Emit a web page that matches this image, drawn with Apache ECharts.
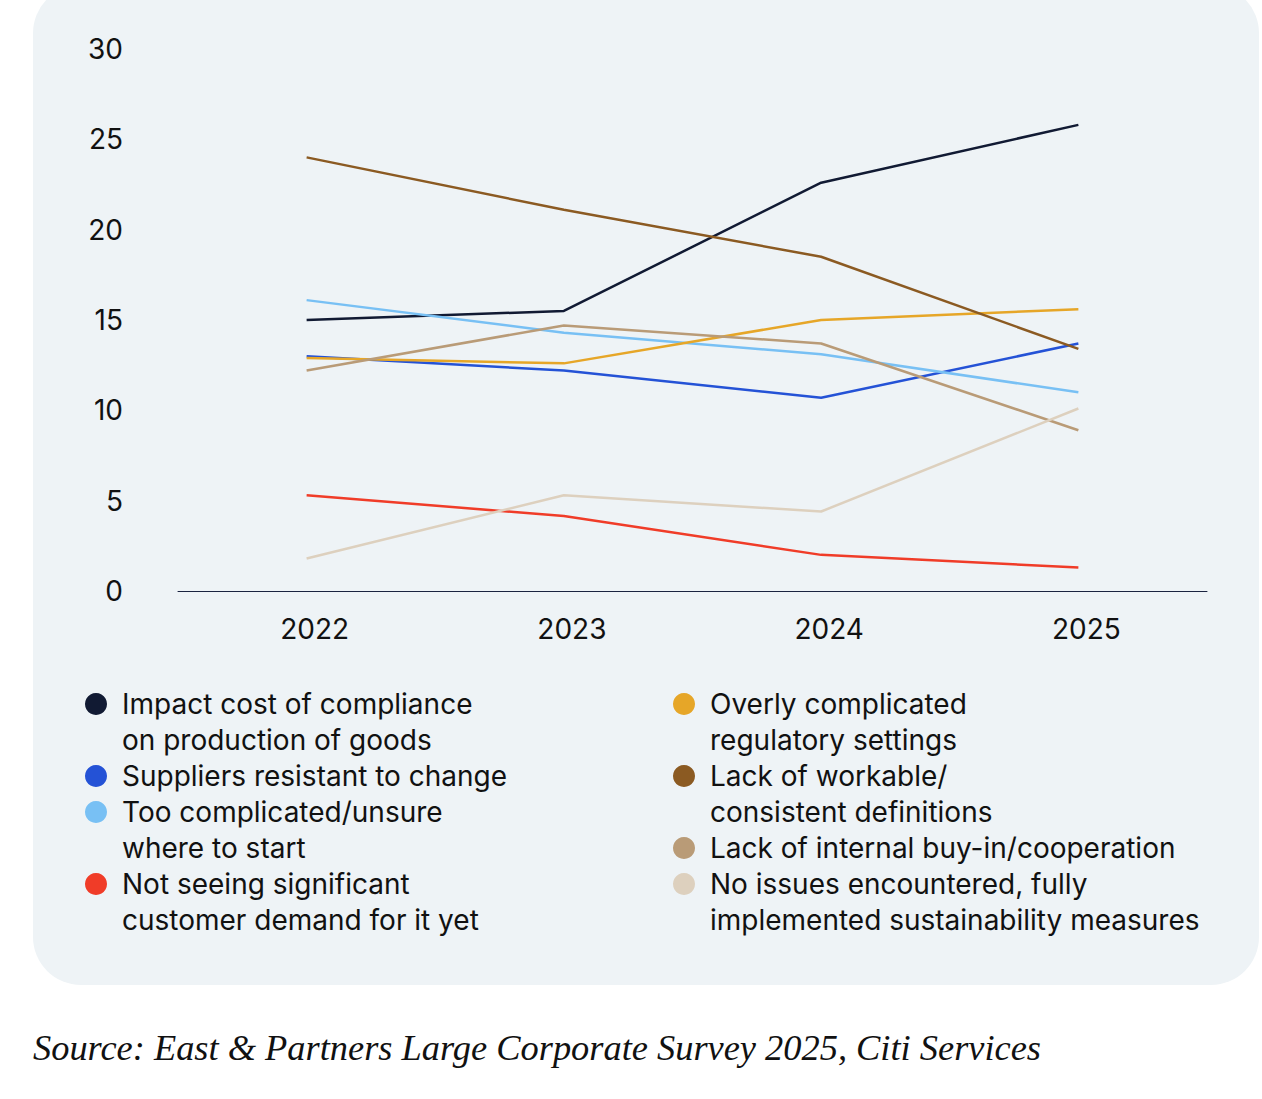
<!DOCTYPE html>
<html>
<head>
<meta charset="utf-8">
<script src="https://cdn.jsdelivr.net/npm/echarts@6/dist/echarts.min.js"></script>
<style>
  html, body { margin: 0; padding: 0; background: #ffffff; }
  #chart { width: 1262px; height: 1099px; }
</style>
</head>
<body>
<div id="chart"></div>
<script>
// data
var years = ["2022", "2023", "2024", "2025"];
var seriesNames = [
  "Impact cost of compliance\non production of goods",
  "Suppliers resistant to change",
  "Too complicated/unsure\nwhere to start",
  "Not seeing significant\ncustomer demand for it yet",
  "Overly complicated\nregulatory settings",
  "Lack of workable/\nconsistent definitions",
  "Lack of internal buy-in/cooperation",
  "No issues encountered, fully\nimplemented sustainability measures"
];
var impactCost = [15.0, 15.5, 22.6, 25.8];
var suppliers = [13.0, 12.2, 10.7, 13.7];
var tooComplicated = [16.1, 14.3, 13.1, 11.0];
var notSeeing = [5.3, 4.15, 2.0, 1.3];
var overlyComplicated = [12.9, 12.6, 15.0, 15.6];
var lackWorkable = [24.0, 21.1, 18.5, 13.4];
var lackInternal = [12.2, 14.7, 13.7, 8.9];
var noIssues = [1.8, 5.3, 4.4, 10.1];
var yTicks = [0, 5, 10, 15, 20, 25, 30];
var sourceText = "Source: East & Partners Large Corporate Survey 2025, Citi Services";

var allValues = [impactCost, suppliers, tooComplicated, notSeeing,
  overlyComplicated, lackWorkable, lackInternal, noIssues];
var colors = ["#111a33", "#2452d6", "#78c0f4", "#f03c28",
  "#e6a628", "#8b5a22", "#b99b77", "#ddd0be"];

var fontSans = "Inter, 'Noto Sans', sans-serif";

// legend slots: [left, icon centre y]
var legendPos = [
  [85, 704], [85, 776], [85, 812], [85, 884],
  [673, 704], [673, 776], [673, 848], [673, 884]
];

var chart = echarts.init(document.getElementById("chart"), null, { renderer: "svg" });

// two-line names get an empty first line so the marker sits on the first text line
var legends = seriesNames.map(function (name, i) {
  var twoLines = name.indexOf("\n") >= 0;
  return {
    data: [name],
    orient: "vertical",
    left: legendPos[i][0],
    top: legendPos[i][1] - (twoLines ? 54 : 18),
    padding: 0,
    icon: "circle",
    itemWidth: 42,
    itemHeight: 22,
    selectedMode: false,
    formatter: function (n) {
      return n.indexOf("\n") >= 0 ? "\n" + n : n;
    },
    textStyle: {
      color: "#111111",
      fontFamily: fontSans,
      fontSize: 28,
      lineHeight: 36
    }
  };
});

var option = {
  backgroundColor: "#ffffff",
  animation: false,
  color: colors,
  graphic: [
    {
      type: "rect",
      z: -10,
      shape: { x: 33, y: -15, width: 1226, height: 1000, r: 48 },
      style: { fill: "#eef3f6" }
    },
    {
      type: "text",
      left: 33,
      top: 1030,
      style: {
        text: sourceText,
        fill: "#111111",
        font: "italic 36.4px 'Liberation Serif', serif"
      }
    }
  ],
  grid: { left: 178, right: 55, top: 49, bottom: 508, containLabel: false },
  legend: legends,
  xAxis: {
    type: "category",
    data: years,
    boundaryGap: true,
    axisLine: { lineStyle: { color: "#1a2340", width: 1 } },
    axisTick: { show: false },
    axisLabel: {
      color: "#111111",
      fontFamily: fontSans,
      fontSize: 28,
      margin: 24,
      padding: [0, 0, 0, 16]
    }
  },
  yAxis: {
    type: "value",
    min: yTicks[0],
    max: yTicks[yTicks.length - 1],
    interval: 5,
    splitLine: { show: false },
    axisLine: { show: false },
    axisTick: { show: false },
    axisLabel: {
      color: "#111111",
      fontFamily: fontSans,
      fontSize: 28,
      margin: 55
    }
  },
  series: allValues.map(function (vals, i) {
    return {
      name: seriesNames[i],
      type: "line",
      data: vals,
      symbol: "none",
      lineStyle: { width: 2.5, color: colors[i] },
      itemStyle: { color: colors[i] }
    };
  })
};

option && chart.setOption(option);
</script>
</body>
</html>
